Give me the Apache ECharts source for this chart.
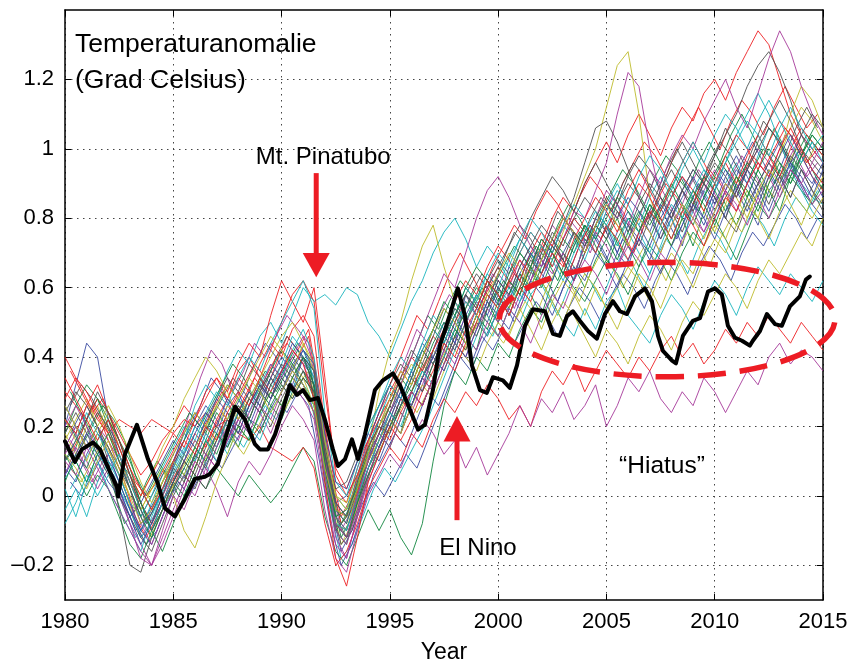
<!DOCTYPE html>
<html>
<head>
<meta charset="utf-8">
<script src="https://cdn.jsdelivr.net/npm/echarts@6/dist/echarts.min.js"></script>
<style>html,body{margin:0;padding:0;background:#fff;}#c{width:853px;height:669px;}</style>
</head>
<body>
<div id="c"></div>
<script>
// ---- data ----
const yTickValues = [-0.2, 0, 0.2, 0.4, 0.6, 0.8, 1, 1.2];
const xTickLabels = ['1980','1985','1990','1995','2000','2005','2010','2015'];

const modelYears = [1980,1980.5,1981,1981.5,1982,1982.5,1983,1983.5,1984,1984.5,
1985,1985.5,1986,1986.5,1987,1987.5,1988,1988.5,1989,1989.5,
1990,1990.5,1991,1991.5,1992,1992.5,1993,1993.5,1994,1994.5,
1995,1995.5,1996,1996.5,1997,1997.5,1998,1998.5,1999,1999.5,
2000,2000.5,2001,2001.5,2002,2002.5,2003,2003.5,2004,2004.5,
2005,2005.5,2006,2006.5,2007,2007.5,2008,2008.5,2009,2009.5,
2010,2010.5,2011,2011.5,2012,2012.5,2013,2013.5,2014,2014.5,2015];

const modelYearsB = [1980.25,1980.75,1981.25,1981.75,1982.25,1982.75,1983.25,1983.75,1984.25,1984.75,
1985.25,1985.75,1986.25,1986.75,1987.25,1987.75,1988.25,1988.75,1989.25,1989.75,
1990.25,1990.75,1991.25,1991.75,1992.25,1992.75,1993.25,1993.75,1994.25,1994.75,
1995.25,1995.75,1996.25,1996.75,1997.25,1997.75,1998.25,1998.75,1999.25,1999.75,
2000.25,2000.75,2001.25,2001.75,2002.25,2002.75,2003.25,2003.75,2004.25,2004.75,
2005.25,2005.75,2006.25,2006.75,2007.25,2007.75,2008.25,2008.75,2009.25,2009.75,
2010.25,2010.75,2011.25,2011.75,2012.25,2012.75,2013.25,2013.75,2014.25,2014.75];

const run01 = [0.20,0.32,0.44,0.40,0.22,0.12,0.02,-0.08,-0.05,0.02,0.08,0.05,0.12,0.20,0.18,0.26,0.30,0.22,0.20,0.28,0.34,0.30,0.40,0.36,0.12,-0.04,-0.06,0.02,0.10,0.22,0.20,0.28,0.36,0.30,0.42,0.50,0.44,0.58,0.52,0.60,0.55,0.66,0.62,0.70,0.64,0.72,0.68,0.62,0.74,0.70,0.78,0.70,0.66,0.76,0.82,0.74,0.80,0.72,0.84,0.78,0.86,0.80,0.90,0.84,0.78,0.88,0.92,0.86,0.94,0.90,0.96];
const run02 = [0.10,0.14,0.22,0.28,0.20,0.10,0.06,-0.02,-0.10,-0.04,0.04,0.12,0.08,0.16,0.24,0.20,0.14,0.22,0.30,0.26,0.22,0.30,0.36,0.28,0.10,-0.10,-0.14,-0.02,0.08,0.14,0.22,0.18,0.30,0.38,0.34,0.44,0.52,0.46,0.42,0.54,0.60,0.54,0.64,0.58,0.52,0.62,0.70,0.66,0.60,0.68,0.74,0.80,0.72,0.66,0.74,0.82,0.88,0.80,0.72,0.82,0.90,0.84,0.78,0.86,0.94,0.88,0.82,0.92,1.00,0.94,0.88];
const run03 = [0.30,0.26,0.22,0.28,0.24,0.18,0.12,0.06,0.10,0.16,0.20,0.26,0.22,0.30,0.34,0.28,0.36,0.40,0.34,0.42,0.50,0.58,0.62,0.56,0.30,0.08,0.02,0.10,0.16,0.24,0.30,0.36,0.32,0.40,0.46,0.42,0.50,0.56,0.52,0.60,0.66,0.62,0.70,0.76,0.72,0.80,0.86,0.82,0.90,0.96,1.02,0.96,1.04,1.10,1.04,0.98,1.06,1.12,1.08,1.16,1.20,1.14,1.22,1.28,1.34,1.30,1.20,1.10,1.04,1.00,0.96];
const run04 = [0.05,0.10,0.04,0.12,0.08,0.02,-0.04,-0.10,-0.02,0.06,0.10,0.16,0.26,0.32,0.28,0.36,0.42,0.38,0.46,0.50,0.44,0.52,0.60,0.56,0.58,0.55,0.60,0.58,0.50,0.46,0.40,0.48,0.56,0.62,0.70,0.76,0.80,0.74,0.66,0.72,0.68,0.62,0.70,0.76,0.72,0.66,0.74,0.80,0.76,0.70,0.78,0.84,0.76,0.70,0.64,0.72,0.80,0.74,0.82,0.88,0.82,0.90,0.96,0.90,0.98,1.06,1.02,0.96,0.90,0.86,0.84];
const run05 = [0.12,0.18,0.10,0.04,0.12,0.06,-0.02,-0.12,-0.08,0.00,0.06,0.02,0.10,0.18,0.14,0.22,0.18,0.26,0.32,0.28,0.36,0.42,0.38,0.30,0.08,-0.12,-0.18,-0.06,0.04,0.12,0.20,0.28,0.24,0.32,0.40,0.36,0.44,0.52,0.48,0.56,0.64,0.60,0.68,0.62,0.70,0.78,0.74,0.82,0.80,0.88,0.96,1.10,1.22,1.18,1.00,0.86,0.80,0.88,0.82,0.76,0.84,0.90,0.86,0.94,1.00,0.96,0.90,0.98,1.04,1.00,0.96];
const run06 = [0.18,0.12,0.20,0.26,0.18,0.10,0.04,-0.04,0.02,0.08,0.02,0.10,0.16,0.12,0.20,0.26,0.22,0.30,0.26,0.34,0.30,0.38,0.34,0.26,0.04,-0.08,-0.10,0.00,0.10,0.16,0.24,0.30,0.26,0.34,0.42,0.38,0.46,0.42,0.50,0.58,0.54,0.62,0.58,0.66,0.72,0.68,0.76,0.84,0.92,1.00,1.12,1.24,1.28,1.10,0.86,0.78,0.72,0.80,0.88,0.82,0.76,0.84,0.92,0.86,0.80,0.90,0.98,1.06,1.12,1.08,1.02];
const run07 = [0.22,0.18,0.26,0.20,0.10,-0.04,-0.20,-0.22,-0.12,-0.04,0.04,0.10,0.06,0.14,0.20,0.16,0.24,0.30,0.26,0.20,0.28,0.34,0.30,0.24,0.06,-0.06,-0.12,-0.02,0.08,0.16,0.22,0.18,0.26,0.34,0.30,0.38,0.46,0.42,0.50,0.46,0.54,0.62,0.58,0.66,0.74,0.70,0.78,0.86,0.96,1.06,1.08,1.02,0.94,0.86,0.80,0.74,0.82,0.88,0.84,0.92,0.98,1.04,1.10,1.18,1.24,1.28,1.22,1.14,1.04,0.98,0.94];
const run08 = [0.08,0.04,0.12,0.18,0.14,0.06,-0.02,-0.10,-0.14,-0.06,0.02,0.08,0.04,0.12,0.18,0.14,0.22,0.28,0.24,0.32,0.36,0.32,0.40,0.34,0.14,-0.02,0.00,0.06,0.14,0.10,0.18,0.26,0.30,0.26,0.34,0.42,0.50,0.46,0.54,0.50,0.58,0.52,0.60,0.66,0.62,0.70,0.64,0.72,0.78,0.74,0.68,0.76,0.82,0.78,0.72,0.80,0.86,0.92,0.86,0.80,0.88,0.94,0.88,0.82,0.90,0.96,1.02,0.96,0.90,0.84,0.80];
const run09 = [0.12,0.06,0.00,0.06,0.02,-0.06,-0.14,-0.18,-0.10,-0.02,0.04,0.00,0.06,0.02,0.08,0.04,0.00,0.06,0.02,-0.02,0.02,0.08,0.14,0.10,-0.06,-0.16,-0.20,-0.12,-0.04,-0.10,-0.04,-0.12,-0.17,-0.08,0.10,0.26,0.36,0.32,0.40,0.36,0.44,0.40,0.48,0.54,0.50,0.58,0.64,0.60,0.56,0.62,0.68,0.64,0.58,0.66,0.72,0.68,0.62,0.70,0.76,0.72,0.80,0.74,0.68,0.76,0.84,0.80,0.86,0.92,0.88,0.84,0.90];
const run10 = [0.28,0.34,0.30,0.24,0.18,0.22,0.20,0.18,0.22,0.20,0.18,0.22,0.20,0.24,0.20,0.22,0.18,0.16,0.20,0.14,0.12,0.10,0.14,0.08,-0.08,-0.20,-0.16,-0.08,0.02,0.08,0.14,0.10,0.18,0.14,0.22,0.28,0.24,0.30,0.26,0.32,0.28,0.22,0.26,0.20,0.30,0.36,0.32,0.38,0.30,0.36,0.42,0.38,0.34,0.40,0.36,0.42,0.46,0.40,0.44,0.38,0.42,0.48,0.44,0.50,0.46,0.52,0.48,0.44,0.50,0.46,0.42];
const run11 = [-0.04,0.02,-0.06,0.04,0.10,0.04,-0.04,-0.12,-0.08,0.02,0.10,0.06,0.14,0.22,0.18,0.12,0.20,0.28,0.34,0.30,0.38,0.46,0.42,0.34,0.12,-0.04,-0.08,0.04,0.14,0.22,0.30,0.26,0.34,0.42,0.38,0.46,0.54,0.50,0.58,0.64,0.60,0.68,0.74,0.70,0.64,0.72,0.78,0.74,0.68,0.76,0.84,0.90,0.84,0.78,0.86,0.92,0.86,0.94,1.00,0.94,0.88,0.96,1.04,1.10,1.16,1.10,1.02,0.94,0.88,0.82,0.78];
const run12 = [0.06,0.14,0.08,0.02,0.08,0.00,-0.08,-0.14,-0.20,-0.12,-0.04,0.04,0.00,0.08,0.02,-0.06,0.04,0.10,0.06,0.12,0.20,0.26,0.22,0.16,-0.04,-0.18,-0.22,-0.10,0.00,0.06,0.12,0.08,0.16,0.22,0.18,0.12,0.16,0.08,0.14,0.06,0.12,0.18,0.26,0.20,0.28,0.24,0.30,0.22,0.26,0.32,0.20,0.26,0.34,0.30,0.36,0.28,0.24,0.30,0.26,0.34,0.30,0.24,0.30,0.36,0.32,0.40,0.44,0.38,0.42,0.40,0.36];
const run13 = [0.16,0.22,0.28,0.20,0.14,0.06,0.00,-0.04,0.02,0.08,0.00,-0.10,-0.15,-0.06,0.04,0.12,0.20,0.16,0.24,0.30,0.26,0.34,0.30,0.24,0.06,-0.06,-0.10,0.02,0.14,0.30,0.42,0.50,0.62,0.72,0.78,0.66,0.56,0.50,0.58,0.52,0.46,0.54,0.60,0.56,0.48,0.56,0.62,0.58,0.52,0.60,0.54,0.48,0.56,0.64,0.60,0.54,0.62,0.68,0.64,0.72,0.78,0.74,0.82,0.88,0.84,0.92,0.98,1.10,1.18,1.14,1.06];
const run14 = [0.24,0.30,0.26,0.20,0.14,0.08,0.02,-0.06,0.00,0.06,0.12,0.18,0.24,0.20,0.28,0.34,0.30,0.38,0.34,0.28,0.36,0.40,0.36,0.30,0.10,-0.08,-0.12,-0.04,0.06,0.14,0.20,0.28,0.36,0.42,0.38,0.46,0.52,0.58,0.54,0.62,0.68,0.64,0.72,0.80,0.86,0.92,0.88,0.82,0.90,0.96,0.90,0.84,0.92,0.98,0.94,0.88,0.96,1.02,0.96,0.90,0.98,1.06,1.00,0.94,1.02,1.08,1.14,1.08,1.00,0.96,0.92];
const run15 = [0.14,0.20,0.16,0.10,0.04,0.00,-0.06,-0.02,0.04,0.10,0.16,0.12,0.20,0.26,0.22,0.16,0.24,0.20,0.28,0.34,0.30,0.38,0.42,0.36,0.16,-0.02,-0.06,0.06,0.16,0.24,0.32,0.28,0.36,0.44,0.40,0.48,0.44,0.52,0.58,0.54,0.62,0.58,0.66,0.72,0.68,0.62,0.70,0.76,0.72,0.80,0.76,0.70,0.78,0.74,0.68,0.76,0.82,0.88,0.94,0.90,0.84,0.92,0.98,0.92,0.86,0.94,0.88,0.96,1.00,0.94,0.90];
const run16 = [0.18,0.26,0.32,0.28,0.22,0.16,0.10,0.02,-0.04,0.04,0.10,0.16,0.22,0.18,0.26,0.32,0.28,0.22,0.30,0.36,0.42,0.38,0.32,0.26,0.04,-0.10,-0.06,0.04,0.12,0.20,0.26,0.34,0.30,0.36,0.44,0.50,0.46,0.54,0.60,0.56,0.50,0.58,0.64,0.60,0.68,0.74,0.70,0.64,0.72,0.78,0.74,0.68,0.76,0.82,0.78,0.84,0.90,0.84,0.78,0.86,0.92,0.98,0.92,0.86,0.94,1.00,0.96,0.90,0.98,1.04,1.00];
const run17 = [0.40,0.34,0.28,0.22,0.18,0.12,0.04,-0.02,-0.08,-0.02,0.06,0.12,0.18,0.14,0.22,0.28,0.34,0.30,0.38,0.44,0.40,0.48,0.52,0.46,0.20,0.02,-0.02,0.08,0.16,0.22,0.28,0.34,0.40,0.36,0.42,0.48,0.56,0.62,0.58,0.66,0.72,0.68,0.62,0.70,0.76,0.72,0.80,0.76,0.70,0.78,0.84,0.80,0.88,0.94,0.88,0.82,0.90,0.96,1.02,0.96,0.90,0.98,1.04,1.00,0.94,1.02,1.08,1.04,0.98,0.92,0.88];
const run18 = [0.02,-0.06,0.04,0.10,0.02,-0.04,-0.10,-0.16,-0.06,0.02,0.08,0.14,0.10,0.18,0.14,0.22,0.28,0.24,0.32,0.38,0.34,0.42,0.48,0.40,0.16,0.00,-0.04,0.08,0.18,0.26,0.34,0.40,0.36,0.44,0.52,0.48,0.56,0.50,0.58,0.52,0.46,0.54,0.50,0.58,0.62,0.56,0.50,0.46,0.54,0.48,0.56,0.60,0.52,0.48,0.44,0.52,0.58,0.54,0.48,0.56,0.62,0.58,0.52,0.60,0.66,0.62,0.58,0.64,0.60,0.56,0.62];
const run19 = [0.10,0.06,0.14,0.20,0.16,0.10,0.02,-0.08,-0.14,-0.06,0.02,0.10,0.16,0.12,0.08,0.16,0.22,0.28,0.24,0.18,0.26,0.32,0.28,0.22,0.02,-0.14,-0.18,-0.06,0.06,0.14,0.22,0.18,0.26,0.34,0.30,0.38,0.44,0.40,0.48,0.54,0.50,0.58,0.54,0.62,0.68,0.64,0.70,0.64,0.72,0.80,0.88,0.84,0.78,0.86,0.94,0.90,0.98,1.04,1.00,1.08,1.14,1.20,1.12,1.06,1.16,1.26,1.34,1.28,1.18,1.10,1.04];
const run20 = [0.22,0.16,0.10,0.18,0.24,0.14,0.06,0.00,0.06,0.14,0.20,0.28,0.34,0.40,0.36,0.30,0.22,0.28,0.34,0.40,0.46,0.50,0.44,0.36,0.14,0.00,-0.02,0.06,0.14,0.20,0.26,0.32,0.38,0.34,0.40,0.46,0.42,0.50,0.56,0.62,0.58,0.52,0.60,0.66,0.62,0.56,0.50,0.58,0.64,0.60,0.54,0.60,0.66,0.62,0.56,0.64,0.70,0.66,0.60,0.68,0.74,0.70,0.78,0.84,0.80,0.74,0.82,0.88,0.84,0.80,0.86];
const run21 = [0.14,0.10,0.18,0.24,0.20,0.14,0.06,-0.02,-0.08,0.00,0.08,0.04,0.12,0.08,0.16,0.22,0.18,0.26,0.32,0.28,0.34,0.30,0.36,0.32,0.14,0.02,0.04,0.12,0.20,0.26,0.32,0.38,0.34,0.42,0.48,0.44,0.52,0.58,0.64,0.60,0.66,0.72,0.78,0.74,0.68,0.76,0.72,0.80,0.86,0.82,0.76,0.84,0.90,0.86,0.80,0.88,0.94,0.88,0.82,0.90,0.86,0.80,0.88,0.94,0.90,0.84,0.92,0.98,0.94,0.88,0.84];
const run22 = [0.26,0.20,0.14,0.20,0.12,0.04,-0.04,-0.10,-0.04,0.04,0.10,0.18,0.14,0.22,0.28,0.24,0.18,0.26,0.32,0.28,0.36,0.44,0.40,0.32,0.10,-0.06,-0.10,0.00,0.10,0.18,0.24,0.30,0.26,0.34,0.40,0.46,0.42,0.50,0.56,0.52,0.60,0.56,0.64,0.70,0.66,0.74,0.80,0.76,0.70,0.78,0.84,0.80,0.86,0.82,0.76,0.84,0.80,0.86,0.92,0.86,0.80,0.88,0.94,0.90,0.84,0.92,0.98,1.04,0.98,0.92,0.86];
const run23 = [0.04,0.12,0.08,0.16,0.22,0.16,0.08,-0.02,-0.10,-0.16,-0.08,0.00,0.08,0.16,0.12,0.20,0.26,0.22,0.18,0.26,0.32,0.28,0.34,0.30,0.10,-0.06,-0.04,0.02,0.10,0.18,0.14,0.22,0.30,0.26,0.34,0.40,0.48,0.44,0.52,0.48,0.56,0.62,0.58,0.66,0.60,0.68,0.74,0.70,0.78,0.72,0.66,0.74,0.80,0.76,0.84,0.78,0.72,0.80,0.86,0.92,0.88,0.82,0.90,0.96,0.92,0.86,0.94,0.90,0.96,1.02,0.98];
const run24 = [0.34,0.28,0.22,0.16,0.22,0.14,0.06,0.00,0.06,0.12,0.18,0.14,0.22,0.28,0.34,0.30,0.38,0.44,0.40,0.52,0.62,0.56,0.50,0.60,0.34,0.06,0.00,0.06,0.14,0.20,0.16,0.24,0.30,0.26,0.34,0.40,0.36,0.44,0.50,0.58,0.54,0.62,0.68,0.64,0.72,0.66,0.74,0.80,0.76,0.70,0.78,0.74,0.68,0.76,0.82,0.78,0.86,0.92,0.88,0.82,0.90,0.96,0.90,0.98,1.04,0.98,0.92,1.00,1.06,1.02,0.98];
const run25 = [0.10,0.16,0.24,0.18,0.12,0.06,-0.02,-0.06,0.00,0.08,0.14,0.20,0.16,0.24,0.30,0.26,0.34,0.40,0.36,0.44,0.50,0.56,0.62,0.54,0.24,0.04,0.00,0.10,0.20,0.26,0.32,0.28,0.36,0.42,0.48,0.44,0.52,0.60,0.56,0.64,0.70,0.66,0.74,0.80,0.76,0.70,0.78,0.84,0.80,0.74,0.82,0.88,0.84,0.92,0.98,0.94,0.88,0.96,1.02,0.96,1.04,1.10,1.06,1.00,1.08,1.14,1.08,1.02,0.96,1.02,0.96];
const run26 = [0.20,0.26,0.20,0.14,0.08,0.02,-0.08,-0.18,-0.20,-0.14,-0.06,0.02,0.10,0.06,0.14,0.20,0.16,0.24,0.30,0.38,0.34,0.40,0.46,0.38,0.12,-0.10,-0.14,-0.04,0.08,0.16,0.24,0.32,0.40,0.48,0.56,0.64,0.60,0.70,0.80,0.88,0.92,0.86,0.78,0.72,0.66,0.74,0.68,0.62,0.70,0.76,0.72,0.66,0.74,0.80,0.76,0.70,0.78,0.84,0.80,0.88,0.94,0.88,0.82,0.90,0.96,0.92,0.86,0.94,0.90,0.84,0.88];
const run27 = [0.12,0.08,0.02,0.10,0.16,0.08,0.00,-0.08,-0.04,0.04,0.10,0.06,0.14,0.20,0.26,0.32,0.28,0.34,0.40,0.46,0.42,0.36,0.44,0.38,0.16,0.00,-0.04,0.04,0.10,0.16,0.22,0.18,0.26,0.32,0.28,0.36,0.44,0.40,0.36,0.44,0.50,0.46,0.54,0.48,0.42,0.50,0.56,0.52,0.46,0.40,0.48,0.44,0.38,0.46,0.52,0.48,0.42,0.50,0.56,0.52,0.58,0.64,0.60,0.54,0.62,0.68,0.64,0.70,0.76,0.72,0.80];
const run28 = [0.18,0.24,0.18,0.12,0.06,0.00,-0.06,-0.12,-0.16,-0.08,0.00,0.06,0.02,0.10,0.16,0.24,0.20,0.28,0.24,0.32,0.38,0.34,0.40,0.36,0.12,-0.04,-0.08,0.02,0.12,0.18,0.26,0.34,0.42,0.38,0.46,0.54,0.50,0.58,0.54,0.62,0.58,0.52,0.60,0.68,0.64,0.72,0.68,0.62,0.70,0.78,0.74,0.82,0.78,0.72,0.80,0.86,0.82,0.76,0.84,0.90,0.86,0.80,0.76,0.84,0.90,0.96,0.92,0.86,0.94,0.88,0.82];
const run29 = [0.06,0.12,0.18,0.14,0.08,0.02,-0.06,-0.14,-0.08,-0.02,0.04,0.10,0.18,0.24,0.20,0.28,0.24,0.30,0.26,0.34,0.40,0.36,0.42,0.38,0.18,0.04,0.02,0.10,0.18,0.14,0.22,0.30,0.26,0.34,0.40,0.36,0.44,0.40,0.48,0.56,0.52,0.48,0.56,0.62,0.58,0.52,0.60,0.66,0.62,0.70,0.66,0.60,0.68,0.74,0.70,0.64,0.72,0.78,0.84,0.80,0.74,0.82,0.88,0.94,0.88,0.82,0.90,0.96,0.92,0.86,0.94];
const run30 = [0.16,0.10,0.04,0.12,0.18,0.10,0.02,-0.06,-0.12,-0.04,0.02,0.08,0.14,0.10,0.18,0.14,0.20,0.16,0.24,0.30,0.26,0.34,0.40,0.32,0.08,-0.08,-0.12,-0.02,0.06,0.12,0.20,0.26,0.32,0.40,0.48,0.56,0.52,0.60,0.66,0.62,0.56,0.64,0.70,0.66,0.74,0.70,0.64,0.72,0.78,0.74,0.80,0.86,0.82,0.76,0.84,0.80,0.74,0.82,0.88,0.84,0.78,0.86,0.92,0.88,0.82,0.90,0.96,0.92,0.98,1.04,1.00];
const run31 = [0.22,0.18,0.26,0.32,0.24,0.16,0.08,0.02,-0.04,0.02,0.10,0.16,0.12,0.20,0.16,0.24,0.30,0.26,0.34,0.30,0.36,0.42,0.38,0.28,0.04,-0.18,-0.26,-0.12,0.04,0.12,0.20,0.16,0.22,0.30,0.36,0.44,0.40,0.48,0.54,0.62,0.58,0.52,0.60,0.56,0.64,0.70,0.66,0.74,0.80,0.86,0.82,0.76,0.84,0.90,0.86,0.80,0.74,0.82,0.78,0.72,0.80,0.86,0.82,0.90,0.96,0.92,1.00,1.06,1.00,0.94,0.90];
const run32 = [-0.08,-0.02,0.06,0.00,0.06,0.12,0.04,-0.04,-0.10,-0.02,0.06,0.12,0.20,0.16,0.10,0.18,0.24,0.20,0.16,0.24,0.30,0.36,0.32,0.26,0.06,-0.08,-0.10,0.00,0.08,0.16,0.24,0.20,0.28,0.36,0.32,0.40,0.48,0.56,0.52,0.46,0.54,0.60,0.56,0.64,0.72,0.68,0.62,0.70,0.76,0.82,0.78,0.72,0.80,0.76,0.70,0.78,0.84,0.80,0.88,0.94,0.90,0.96,1.02,1.08,1.04,0.98,1.06,1.12,1.06,1.00,1.04];
const run33 = [0.14,0.20,0.14,0.08,0.02,-0.04,-0.10,-0.16,-0.20,-0.10,0.00,-0.04,0.04,0.12,0.08,0.16,0.22,0.18,0.26,0.22,0.30,0.36,0.32,0.24,0.06,-0.08,-0.12,0.00,0.10,0.18,0.14,0.22,0.30,0.26,0.34,0.42,0.38,0.46,0.42,0.50,0.46,0.54,0.50,0.44,0.52,0.58,0.54,0.62,0.68,0.64,0.58,0.66,0.72,0.68,0.62,0.70,0.66,0.74,0.80,0.76,0.82,0.88,0.84,0.78,0.86,0.80,0.88,0.94,0.90,0.96,1.02];
const run34 = [0.26,0.20,0.14,0.20,0.26,0.20,0.12,0.04,-0.02,0.04,0.12,0.18,0.24,0.20,0.26,0.22,0.28,0.34,0.30,0.24,0.30,0.36,0.32,0.26,0.08,-0.04,-0.06,0.02,0.12,0.20,0.28,0.36,0.32,0.40,0.48,0.54,0.50,0.44,0.52,0.58,0.64,0.70,0.66,0.60,0.68,0.74,0.80,0.76,0.70,0.78,0.84,0.78,0.72,0.80,0.76,0.70,0.78,0.84,0.80,0.74,0.82,0.90,0.86,0.80,0.88,0.94,0.90,0.84,0.78,0.86,0.92];
const run35 = [0.10,0.16,0.22,0.30,0.24,0.16,0.06,-0.04,-0.10,-0.04,0.04,0.10,0.06,0.02,0.10,0.18,0.26,0.22,0.30,0.36,0.32,0.28,0.34,0.30,0.12,-0.02,-0.06,0.04,0.14,0.20,0.18,0.26,0.34,0.30,0.38,0.46,0.54,0.50,0.46,0.54,0.62,0.58,0.66,0.72,0.78,0.74,0.68,0.76,0.72,0.80,0.86,0.82,0.76,0.84,0.90,0.86,0.80,0.88,0.94,0.90,0.96,0.92,0.86,0.94,1.00,1.06,1.02,0.96,1.04,1.10,1.06];

// runs sampled on the quarter-offset grid (modelYearsB)
const runB01 = [0.18,0.24,0.16,0.10,0.06,-0.02,-0.10,-0.06,0.00,0.04,0.12,0.20,0.26,0.34,0.30,0.24,0.30,0.38,0.44,0.40,0.34,0.40,0.36,0.20,-0.02,-0.16,-0.10,-0.02,0.04,0.00,0.06,0.12,0.08,0.16,0.24,0.32,0.40,0.36,0.44,0.50,0.56,0.50,0.58,0.66,0.62,0.56,0.64,0.72,0.78,0.72,0.66,0.74,0.70,0.78,0.86,0.80,0.74,0.82,0.90,0.84,0.92,0.88,0.96,1.02,0.96,0.90,0.98,0.92,0.86,0.92];
const runB02 = [0.30,0.24,0.18,0.12,0.02,-0.08,-0.04,0.04,0.10,0.06,0.00,0.08,0.14,0.10,0.18,0.26,0.22,0.30,0.36,0.32,0.38,0.44,0.40,0.22,0.02,-0.12,-0.06,0.04,0.12,0.20,0.28,0.36,0.44,0.52,0.48,0.56,0.62,0.58,0.52,0.60,0.66,0.72,0.68,0.62,0.70,0.78,0.84,0.80,0.74,0.82,0.88,0.94,0.90,0.84,0.92,0.98,0.94,0.88,0.96,1.02,0.96,1.04,1.10,1.04,0.98,1.06,1.00,0.94,1.02,1.08];
const runB03 = [0.12,0.18,0.26,0.20,0.12,0.04,-0.06,-0.12,-0.06,0.02,0.08,0.04,0.12,0.18,0.24,0.20,0.28,0.34,0.30,0.38,0.46,0.42,0.48,0.30,0.08,-0.06,0.00,0.10,0.20,0.28,0.36,0.44,0.52,0.48,0.56,0.64,0.70,0.64,0.58,0.66,0.72,0.78,0.74,0.82,0.88,0.84,0.78,0.86,0.92,0.88,0.82,0.90,0.96,1.02,0.98,0.92,1.00,1.06,1.12,1.06,1.00,1.08,1.14,1.10,1.04,1.12,1.18,1.12,1.06,1.10];
const runB04 = [0.02,0.08,0.14,0.10,0.04,-0.04,-0.12,-0.08,-0.02,0.04,0.10,0.16,0.12,0.06,0.12,0.18,0.14,0.20,0.26,0.22,0.28,0.34,0.30,0.16,-0.04,-0.18,-0.14,-0.06,0.02,0.08,0.04,0.10,0.16,0.22,0.30,0.38,0.46,0.42,0.50,0.46,0.54,0.60,0.56,0.64,0.58,0.52,0.60,0.66,0.62,0.56,0.64,0.70,0.66,0.60,0.68,0.74,0.70,0.64,0.72,0.78,0.74,0.68,0.76,0.82,0.78,0.72,0.80,0.86,0.82,0.88];
const runB05 = [0.16,0.10,0.04,0.10,0.14,0.06,-0.02,-0.10,-0.04,0.04,0.14,0.24,0.34,0.42,0.38,0.30,0.36,0.44,0.40,0.46,0.52,0.48,0.44,0.26,0.04,-0.10,-0.04,0.06,0.16,0.24,0.32,0.40,0.48,0.44,0.52,0.58,0.54,0.48,0.56,0.64,0.60,0.54,0.62,0.70,0.66,0.74,0.80,0.76,0.70,0.78,0.86,0.82,0.76,0.84,0.92,0.86,0.80,0.88,0.94,0.90,0.84,0.92,0.98,0.94,0.88,0.96,1.04,0.98,0.92,0.96];
const runB06 = [0.08,0.04,0.10,0.16,0.10,0.02,-0.08,-0.14,-0.08,0.00,0.06,0.12,0.08,0.14,0.20,0.16,0.12,0.18,0.24,0.20,0.26,0.32,0.36,0.22,0.00,-0.14,-0.08,0.02,0.10,0.16,0.22,0.28,0.24,0.30,0.38,0.44,0.40,0.46,0.52,0.48,0.44,0.50,0.56,0.52,0.60,0.66,0.62,0.56,0.64,0.70,0.66,0.60,0.66,0.72,0.68,0.62,0.70,0.76,0.72,0.66,0.74,0.80,0.76,0.84,0.90,0.86,0.94,1.00,0.96,1.02];
const runB07 = [0.26,0.32,0.28,0.22,0.16,0.08,0.00,-0.08,-0.02,0.06,0.12,0.08,0.16,0.22,0.28,0.34,0.30,0.26,0.32,0.40,0.46,0.42,0.36,0.18,-0.02,-0.14,-0.10,0.00,0.10,0.18,0.26,0.22,0.30,0.38,0.46,0.42,0.50,0.58,0.64,0.60,0.68,0.76,0.72,0.66,0.74,0.82,0.78,0.72,0.80,0.86,0.82,0.90,0.96,0.92,0.86,0.94,1.00,0.94,0.88,0.96,1.02,0.98,0.92,1.00,1.08,1.04,0.98,1.06,1.12,1.06];
const runB08 = [0.04,0.00,0.06,0.12,0.08,0.00,-0.08,-0.14,-0.10,-0.02,0.04,0.00,0.06,0.12,0.08,0.14,0.20,0.16,0.22,0.28,0.24,0.30,0.26,0.10,-0.08,-0.20,-0.14,-0.04,0.06,0.12,0.18,0.14,0.22,0.30,0.26,0.34,0.42,0.38,0.46,0.42,0.48,0.44,0.50,0.56,0.52,0.46,0.54,0.60,0.56,0.50,0.58,0.64,0.60,0.54,0.62,0.68,0.64,0.58,0.66,0.72,0.68,0.62,0.70,0.76,0.72,0.78,0.84,0.80,0.74,0.80];
const runB09 = [0.20,0.14,0.20,0.26,0.22,0.16,0.06,0.00,0.06,0.12,0.18,0.24,0.20,0.26,0.32,0.38,0.34,0.28,0.34,0.30,0.36,0.42,0.38,0.24,0.04,-0.08,-0.02,0.08,0.18,0.26,0.22,0.30,0.38,0.34,0.42,0.50,0.46,0.54,0.60,0.56,0.62,0.58,0.66,0.72,0.68,0.62,0.70,0.76,0.72,0.80,0.76,0.70,0.78,0.84,0.80,0.86,0.92,0.88,0.82,0.90,0.96,0.92,0.86,0.94,1.00,0.96,0.90,0.98,1.04,1.00];
const runB10 = [0.36,0.30,0.24,0.28,0.20,0.12,0.04,0.00,0.04,0.10,0.16,0.22,0.18,0.24,0.30,0.26,0.32,0.38,0.34,0.40,0.44,0.40,0.46,0.28,0.06,-0.08,-0.04,0.06,0.14,0.22,0.30,0.26,0.34,0.40,0.36,0.44,0.52,0.48,0.56,0.62,0.58,0.64,0.60,0.68,0.74,0.70,0.64,0.72,0.78,0.74,0.80,0.76,0.70,0.78,0.84,0.90,0.86,0.80,0.88,0.94,0.90,0.84,0.92,0.98,0.94,1.00,1.06,1.02,0.96,1.00];

const modelRuns = [run01,run02,run03,run04,run05,run06,run07,run08,run09,run10,
  run11,run12,run13,run14,run15,run16,run17,run18,run19,run20,
  run21,run22,run23,run24,run25,run26,run27,run28,run29,run30,
  run31,run32,run33,run34,run35];
const modelRunsB = [runB01,runB02,runB03,runB04,runB05,runB06,runB07,runB08,runB09,runB10];

const obsYears = [1980.0,1980.46,1980.78,1981.29,1981.62,1982.08,1982.40,1982.45,1982.77,1983.32,
  1983.83,1984.29,1984.62,1985.08,1985.54,1986.00,1986.46,1986.69,1987.06,1987.39,
  1987.85,1988.31,1988.77,1989.00,1989.37,1989.70,1990.06,1990.39,1990.71,1990.99,
  1991.31,1991.68,1992.00,1992.37,1992.60,1992.93,1993.25,1993.53,1993.85,1994.31,
  1994.68,1995.14,1995.47,1995.93,1996.30,1996.62,1996.99,1997.31,1997.78,1998.14,
  1998.47,1998.79,1999.16,1999.48,1999.76,2000.22,2000.54,2000.87,2001.24,2001.61,
  2002.16,2002.53,2002.85,2003.18,2003.45,2003.78,2004.15,2004.56,2004.93,2005.30,
  2005.62,2005.95,2006.32,2006.78,2007.10,2007.38,2007.61,2008.03,2008.21,2008.53,
  2008.99,2009.32,2009.69,2010.01,2010.33,2010.61,2010.93,2011.26,2011.62,2011.76,
  2012.09,2012.41,2012.78,2013.10,2013.47,2013.93,2014.21,2014.39];
const obsValues = [0.157,0.098,0.134,0.154,0.134,0.069,0.026,-0.002,0.12,0.205,
  0.106,0.035,-0.036,-0.059,-0.008,0.049,0.055,0.063,0.092,0.163,
  0.257,0.22,0.149,0.134,0.134,0.177,0.248,0.319,0.291,0.305,
  0.276,0.282,0.22,0.134,0.086,0.106,0.163,0.106,0.177,0.305,
  0.333,0.353,0.319,0.248,0.191,0.205,0.305,0.433,0.524,0.598,
  0.518,0.376,0.305,0.297,0.342,0.333,0.311,0.376,0.49,0.538,
  0.532,0.467,0.461,0.518,0.532,0.504,0.475,0.453,0.524,0.561,
  0.532,0.524,0.575,0.598,0.561,0.461,0.418,0.39,0.382,0.461,
  0.504,0.512,0.589,0.598,0.58,0.49,0.456,0.447,0.433,0.447,
  0.475,0.524,0.495,0.49,0.546,0.575,0.623,0.632];

const runColors = ['#3a4ba0','#12873f','#ed2024','#18b4bd','#a6399a','#bdbb2b','#505050'];

// ---- chart ----
const FONT = '"Liberation Sans", Arial, Helvetica, sans-serif';
const chart = echarts.init(document.getElementById('c'), null, {renderer:'canvas'});

function runSeries(years, vals, colorIndex) {
  return {
    type: 'line',
    data: vals.map((v, j) => [years[j], v]),
    showSymbol: false, symbol: 'none', silent: true,
    lineStyle: { width: 0.9, color: runColors[colorIndex % runColors.length] },
    z: 2, clip: true
  };
}
const series = [];
modelRuns.forEach((vals, i) => {
  series.push(runSeries(modelYears, vals, i));
  if (i < modelRunsB.length) series.push(runSeries(modelYearsB, modelRunsB[i], i + 35));
});
series.push({
  type: 'line',
  data: obsValues.map((v, j) => [obsYears[j], v]),
  showSymbol: false, symbol: 'none', silent: true,
  lineStyle: { width: 4, color: '#000', join: 'round', cap: 'round' },
  z: 5, clip: true
});

const axisLineStyle = { color: '#000', width: 1.5 };
const dotted = { color: '#444', width: 1, type: [1.5, 4.5] };

const option = {
  animation: false,
  backgroundColor: '#fff',
  textStyle: { fontFamily: FONT },
  grid: { left: 65, right: 30, top: 10, bottom: 61, containLabel: false },
  xAxis: [{
    type: 'value', min: 1980, max: 2015, interval: 5, position: 'bottom',
    axisLine: { show: true, onZero: false, lineStyle: axisLineStyle },
    axisTick: { show: true, inside: true, length: 6, lineStyle: { color: '#000', width: 1 } },
    axisLabel: { color: '#000', fontSize: 22, margin: 11, fontFamily: FONT,
      formatter: v => xTickLabels[Math.round((v - 1980) / 5)] || '' },
    splitLine: { show: true, lineStyle: dotted },
    name: 'Year', nameLocation: 'middle', nameGap: 41,
    nameTextStyle: { color: '#000', fontSize: 23, fontFamily: FONT }
  }, {
    type: 'value', min: 1980, max: 2015, interval: 5, position: 'top',
    axisLine: { show: true, onZero: false, lineStyle: axisLineStyle },
    axisTick: { show: true, inside: true, length: 6, lineStyle: { color: '#000', width: 1 } },
    axisLabel: { show: false }, splitLine: { show: false }
  }],
  yAxis: [{
    type: 'value', min: -0.3, max: 1.4, position: 'left',
    axisLine: { show: true, onZero: false, lineStyle: axisLineStyle },
    axisTick: { show: true, inside: true, length: 6, customValues: yTickValues, lineStyle: { color: '#000', width: 1 } },
    axisLabel: { color: '#000', fontSize: 22, margin: 11, fontFamily: FONT, customValues: yTickValues,
      formatter: v => String(Math.round(v * 10) / 10).replace('-', '\u2013') },
    splitLine: { show: true, lineStyle: dotted }
  }, {
    type: 'value', min: -0.3, max: 1.4, position: 'right',
    axisLine: { show: true, onZero: false, lineStyle: axisLineStyle },
    axisTick: { show: true, inside: true, length: 6, customValues: yTickValues, lineStyle: { color: '#000', width: 1 } },
    axisLabel: { show: false }, splitLine: { show: false }
  }],
  series: series
};
chart.setOption(option);

// ---- annotations (positioned from data coordinates) ----
const RED = '#ed1c24';
function px(x, y) { return chart.convertToPixel({ gridIndex: 0 }, [x, y]); }
const pinTop = px(1991.6, 0.93), pinHeadBase = px(1991.6, 0.70), pinTip = px(1991.6, 0.63);
const ninoBottom = px(1998.1, -0.07), ninoHeadBase = px(1998.1, 0.157), ninoTip = px(1998.1, 0.23);
const ellC = px(2007.8, 0.508);
const pxPerYear = px(1981, 0)[0] - px(1980, 0)[0];
const pxPerUnit = px(1980, 0)[1] - px(1980, 1)[1];

chart.setOption({
  graphic: [
    { type: 'text', left: 75, top: 31, z: 20, style: { text: 'Temperaturanomalie', fontSize: 26.5, fontFamily: FONT, fill: '#000' } },
    { type: 'text', left: 75, top: 67, z: 20, style: { text: '(Grad Celsius)', fontSize: 26.5, fontFamily: FONT, fill: '#000' } },
    { type: 'text', z: 20, x: pinTop[0] + 7, y: 157, style: { text: 'Mt. Pinatubo', fontSize: 24, fontFamily: FONT, fill: '#000', align: 'center', verticalAlign: 'middle' } },
    { type: 'rect', z: 20, shape: { x: pinTop[0] - 2.5, y: pinTop[1], width: 5, height: pinHeadBase[1] - pinTop[1] + 1 }, style: { fill: RED } },
    { type: 'polygon', z: 20, shape: { points: [[pinTop[0] - 13.5, pinHeadBase[1]], [pinTop[0] + 13.5, pinHeadBase[1]], [pinTip[0], pinTip[1]]] }, style: { fill: RED } },
    { type: 'text', z: 20, x: ninoBottom[0] + 21, y: 548, style: { text: 'El Nino', fontSize: 24, fontFamily: FONT, fill: '#000', align: 'center', verticalAlign: 'middle' } },
    { type: 'rect', z: 20, shape: { x: ninoBottom[0] - 2.5, y: ninoHeadBase[1] - 1, width: 5, height: ninoBottom[1] - ninoHeadBase[1] + 1 }, style: { fill: RED } },
    { type: 'polygon', z: 20, shape: { points: [[ninoBottom[0] - 13.5, ninoHeadBase[1]], [ninoBottom[0] + 13.5, ninoHeadBase[1]], [ninoTip[0], ninoTip[1]]] }, style: { fill: RED } },
    { type: 'text', z: 20, x: 662, y: 466, style: { text: '\u201CHiatus\u201D', fontSize: 24.5, fontFamily: FONT, fill: '#000', align: 'center', verticalAlign: 'middle' } },
    { type: 'ellipse', z: 25, shape: { cx: ellC[0], cy: ellC[1], rx: 7.75 * pxPerYear, ry: 0.165 * pxPerUnit },
      style: { fill: 'transparent', stroke: RED, lineWidth: 5.5, lineDash: [28, 14] } }
  ]
});
</script>
</body>
</html>
